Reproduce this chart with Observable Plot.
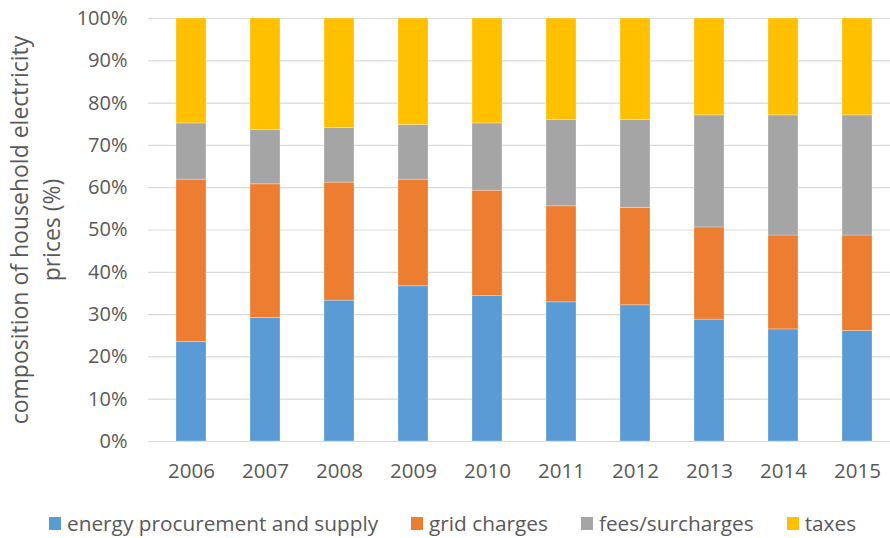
<!DOCTYPE html>
<html>
<head>
<meta charset="utf-8">
<script src="https://cdn.jsdelivr.net/npm/d3@7"></script>
<script src="https://cdn.jsdelivr.net/npm/@observablehq/plot@0.6"></script>
<style>
  html, body { margin: 0; padding: 0; background: #fff; }
  #wrap { position: relative; width: 890px; height: 538px; font-family: "Open Sans", sans-serif; }
  #legend { position: absolute; left: 49px; top: 509px; display: flex; align-items: center; gap: 33px; font-size: 20.8px; color: #595959; white-space: nowrap; }
  .item { display: flex; align-items: center; gap: 6px; }
  .sw { width: 12px; height: 13px; display: inline-block; }
</style>
</head>
<body>
<div id="wrap">
  <div id="chart"></div>
  <div id="legend"></div>
</div>
<script>
const years = ["2006","2007","2008","2009","2010","2011","2012","2013","2014","2015"];
const categories = ["energy procurement and supply", "grid charges", "fees/surcharges", "taxes"];
const colors = ["#5B9BD5", "#ED7D31", "#A5A5A5", "#FFC000"];
const energy = [23.5, 29.2, 33.3, 36.7, 34.4, 32.9, 32.2, 28.8, 26.5, 26.1];
const grid   = [38.4, 31.6, 27.9, 25.2, 24.9, 22.7, 23.0, 21.8, 22.2, 22.6];
const fees   = [13.3, 12.8, 12.9, 12.9, 15.9, 20.4, 20.8, 26.5, 28.4, 28.4];
const taxes  = [24.8, 26.4, 25.9, 25.2, 24.8, 24.0, 24.0, 22.9, 22.9, 22.9];
const yTicks = [0, 10, 20, 30, 40, 50, 60, 70, 80, 90, 100];
const titleLines = ["composition of household electricity", "prices (%)"];

const series = [energy, grid, fees, taxes];
const data = [];
years.forEach((yr, i) => {
  categories.forEach((c, k) => data.push({year: yr, category: c, value: series[k][i]}));
});

const plot = Plot.plot({
  width: 890,
  height: 500,
  marginLeft: 148,
  marginRight: 0,
  marginTop: 18,
  marginBottom: 59,
  style: {fontFamily: "Open Sans, sans-serif", fontSize: "20px", color: "#595959", background: "white"},
  x: {domain: years, range: [150.1, 898.1], paddingInner: 0.595, paddingOuter: 0.2975, label: null},
  y: {domain: [0, 100], label: null},
  color: {domain: categories, range: colors},
  marks: [
    Plot.ruleY(yTicks, {stroke: "#d9d9d9", strokeWidth: 1.2}),
    Plot.barY(data, {x: "year", y: "value", fill: "category", order: categories, stroke: "white", strokeOpacity: 0.35, strokeWidth: 0.8}),
    Plot.axisY(yTicks, {tickSize: 0, tickPadding: 21, tickFormat: d => d + "%", fill: "#595959", fontSize: 20, label: null}),
    Plot.axisX({tickSize: 0, tickPadding: 22, fill: "#595959", fontSize: 20.5, label: null}),
    Plot.text([titleLines[0]], {frameAnchor: "left", textAnchor: "middle", lineAnchor: "middle", rotate: -90, dx: -128, fill: "#595959", fontSize: 23, text: d => d}),
    Plot.text([titleLines[1]], {frameAnchor: "left", textAnchor: "middle", lineAnchor: "middle", rotate: -90, dx: -96, fill: "#595959", fontSize: 23, text: d => d})
  ]
});
document.getElementById("chart").appendChild(plot);

const leg = document.getElementById("legend");
categories.forEach((c, k) => {
  const it = document.createElement("div");
  it.className = "item";
  const sw = document.createElement("span");
  sw.className = "sw";
  sw.style.background = colors[k];
  const t = document.createElement("span");
  t.textContent = c;
  it.appendChild(sw); it.appendChild(t);
  leg.appendChild(it);
});
</script>
</body>
</html>
